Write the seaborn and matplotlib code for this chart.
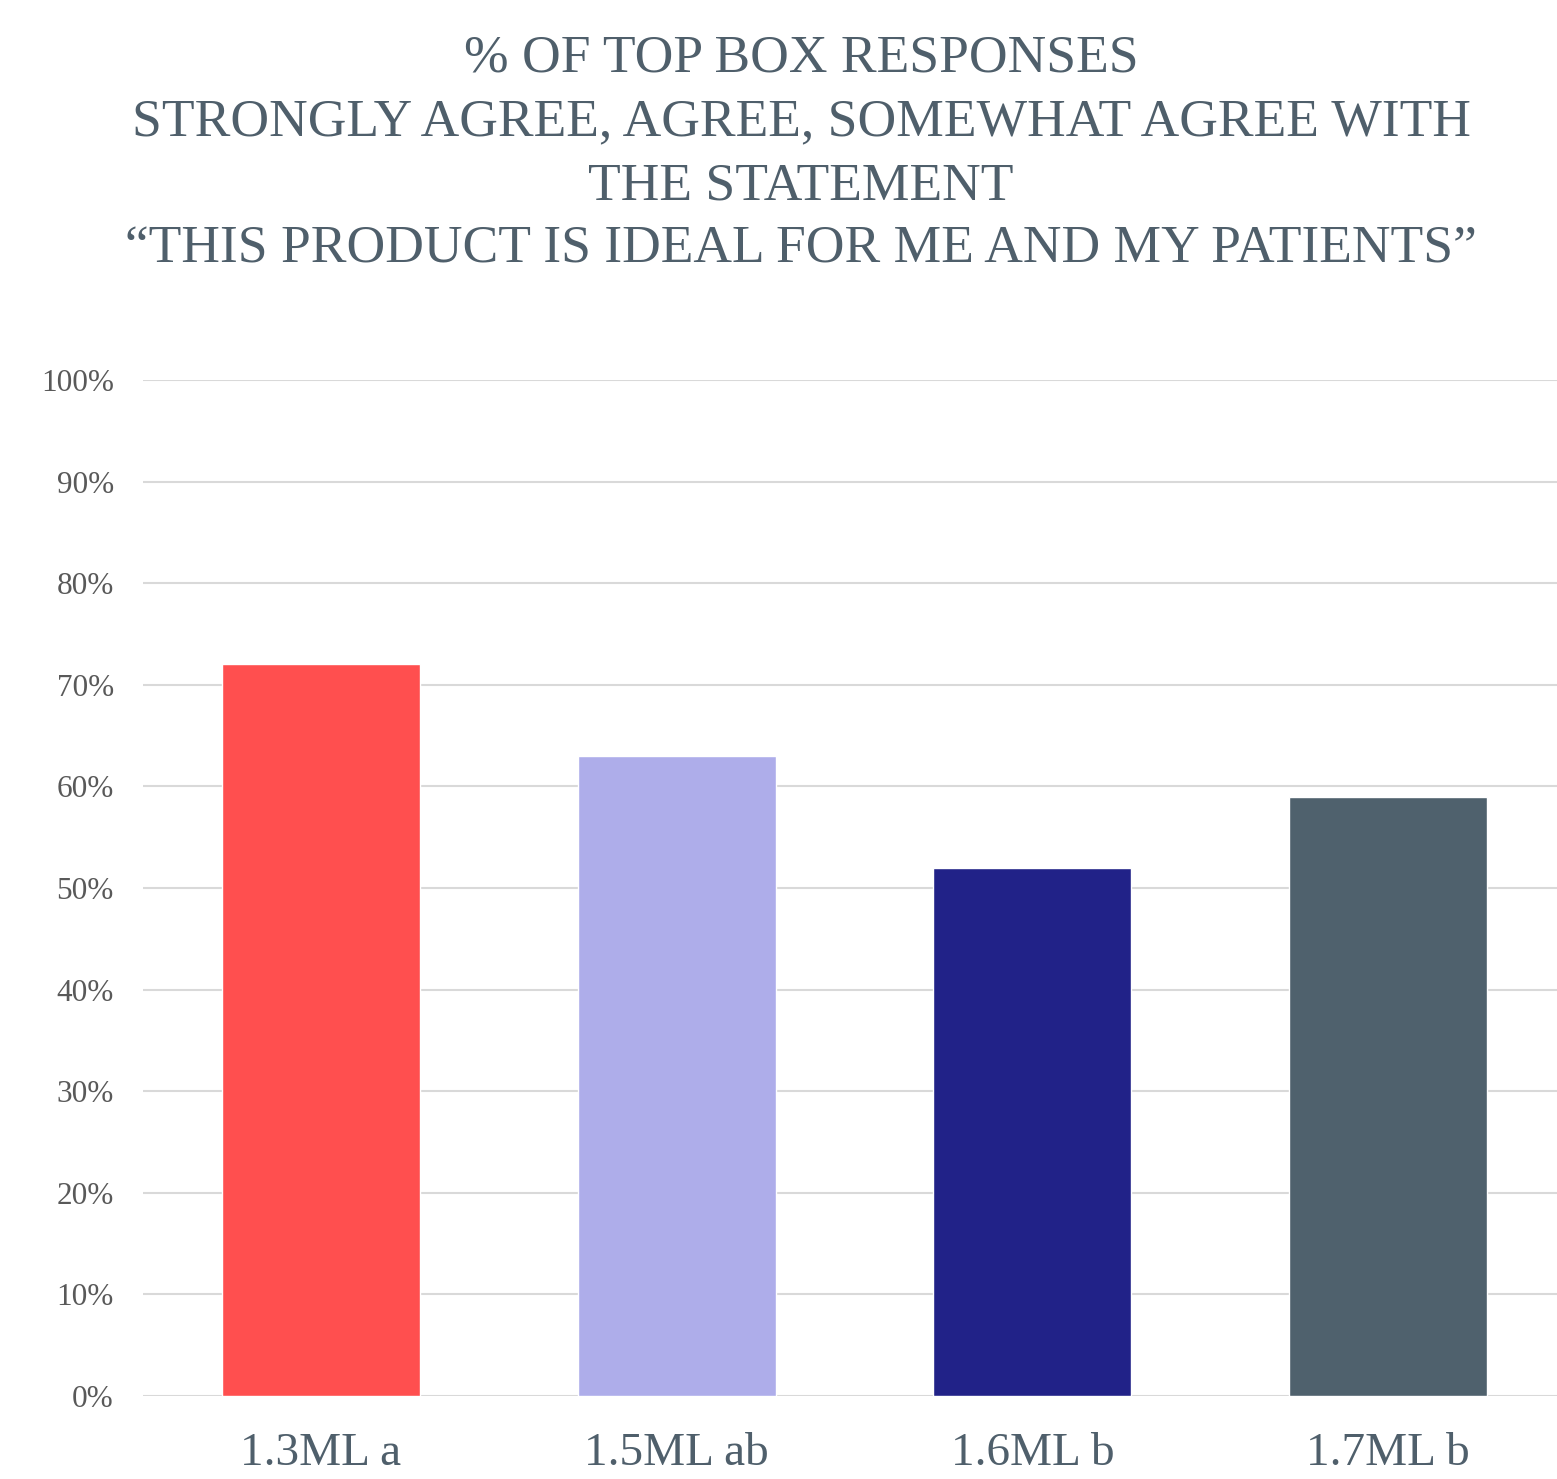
import matplotlib
matplotlib.use('Agg')
import matplotlib.pyplot as plt
import seaborn as sns
import pandas as pd
from matplotlib.ticker import FuncFormatter

# data
categories = ['1.3ML a', '1.5ML ab', '1.6ML b', '1.7ML b']
values = [0.72, 0.63, 0.52, 0.59]
colors = ['#FF4F4F', '#AEADEA', '#212288', '#4F616D']
title_lines = ['% OF TOP BOX RESPONSES',
               'STRONGLY AGREE, AGREE, SOMEWHAT AGREE WITH',
               'THE STATEMENT',
               '\u201cTHIS PRODUCT IS IDEAL FOR ME AND MY PATIENTS\u201d']

sns.set_theme(style='white')
plt.rcParams['font.family'] = ['Liberation Serif', 'DejaVu Serif']

df = pd.DataFrame({'cat': categories, 'val': values})

fig = plt.figure(figsize=(15.57, 14.79), dpi=100)
# axes runs slightly past the right edge of the figure, like the original
ax = fig.add_axes([143/1557, 1 - 1396/1479, (1566 - 143)/1557, (1396 - 380)/1479])

sns.barplot(data=df, x='cat', y='val', hue='cat', palette=colors, width=0.557,
            saturation=1, legend=False, ax=ax, zorder=3)

ax.set_ylim(0, 1)
ax.set_xlim(-0.5, 3.5)
ax.set_yticks([i/10 for i in range(11)])
ax.yaxis.set_major_formatter(FuncFormatter(lambda v, p: f'{int(round(v*100))}%'))
ax.grid(axis='y', color='#D9D9D9', linewidth=1.5, zorder=0)
ax.grid(axis='x', visible=False)
for s in ax.spines.values():
    s.set_visible(False)
ax.tick_params(axis='y', length=0, pad=21, labelsize=22.5, labelcolor='#595959')
ax.tick_params(axis='x', length=0, pad=26, labelsize=34, labelcolor='#4F5F6B')
ax.set_xlabel('')
ax.set_ylabel('')

fig.text(801/1557, 1 - 35/1479, '\n'.join(title_lines), ha='center', va='top',
         fontsize=38.5, color='#4F5F6B', linespacing=1.42)

fig.savefig('out.png', dpi=100)
